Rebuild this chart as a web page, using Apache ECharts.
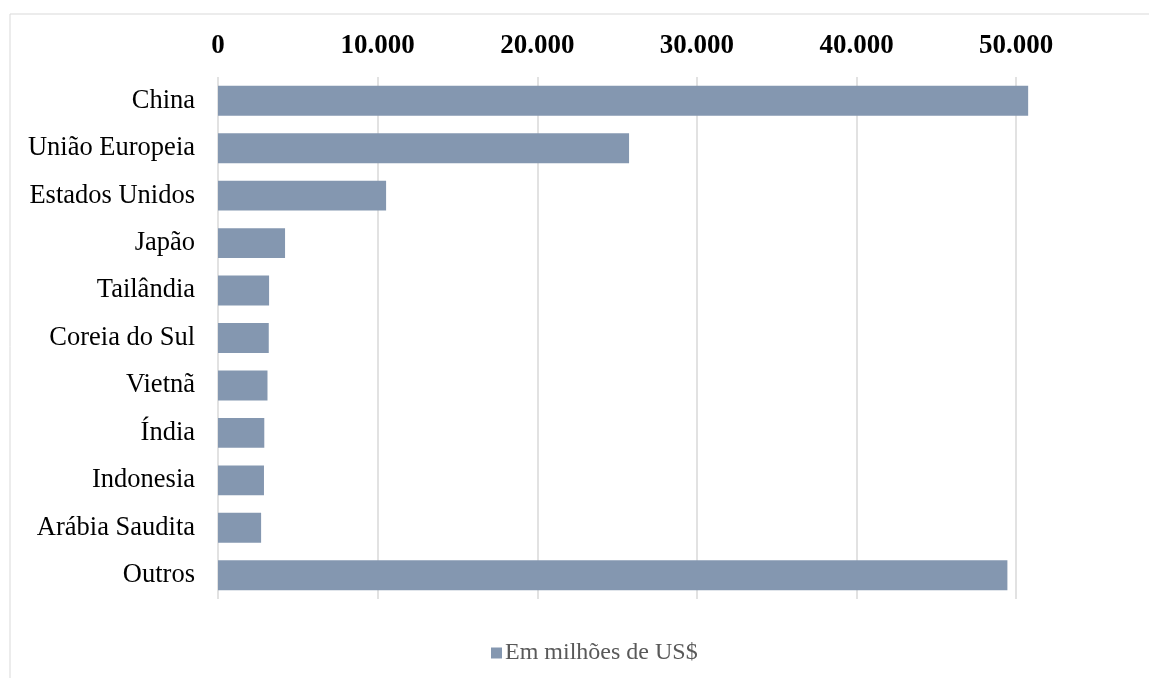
<!DOCTYPE html>
<html>
<head>
<meta charset="utf-8">
<script src="https://cdn.jsdelivr.net/npm/echarts@6/dist/echarts.min.js"></script>
<style>html,body{margin:0;padding:0;background:#fff}#c{width:1149px;height:678px}</style>
</head>
<body>
<div id="c"></div>
<script>
const categories = ["China", "União Europeia", "Estados Unidos", "Japão", "Tailândia", "Coreia do Sul", "Vietnã", "Índia", "Indonesia", "Arábia Saudita", "Outros"];
const values = [50750, 25750, 10530, 4200, 3200, 3180, 3100, 2900, 2880, 2700, 49450];
const seriesName = "Em milhões de US$";
const xMin = 0, xMax = 55000, xStep = 10000;

const FONT = '"Liberation Serif", "Times New Roman", serif';
const chart = echarts.init(document.getElementById('c'));
chart.setOption({
  animation: false,
  backgroundColor: '#fff',
  graphic: [{
    type: 'rect', shape: {x: 10, y: 14, width: 1300, height: 800},
    style: {fill: 'none', stroke: '#d9d9d9', lineWidth: 1}, silent: true, z: -1
  }],
  grid: {left: 218, right: 53, top: 77, bottom: 79, containLabel: false},
  legend: {
    left: 486, top: 636, itemWidth: 11, itemHeight: 11, itemGap: 10,
    icon: 'rect',
    textStyle: {fontFamily: FONT, fontSize: 24, color: '#595959', padding: [0,0,0,-2]},
    data: [seriesName]
  },
  xAxis: {
    type: 'value', position: 'top', min: xMin, max: xMax, interval: xStep,
    axisLine: {show: false}, axisTick: {show: false},
    axisLabel: {
      fontFamily: FONT, fontSize: 27, fontWeight: 'bold', color: '#000', margin: 17,
      showMaxLabel: false,
      formatter: v => (v % xStep === 0) ? v.toLocaleString('de-DE') : ''
    },
    splitLine: {show: true, showMaxLine: false, lineStyle: {color: '#d9d9d9', width: 1.5}}
  },
  yAxis: {
    type: 'category', data: categories, inverse: true,
    axisLine: {show: false}, axisTick: {show: false},
    axisLabel: {fontFamily: FONT, fontSize: 26.5, color: '#000', margin: 23}
  },
  series: [{
    name: seriesName, type: 'bar', data: values,
    barCategoryGap: '37%',
    itemStyle: {color: '#8497b0'}
  }]
});
</script>
</body>
</html>
